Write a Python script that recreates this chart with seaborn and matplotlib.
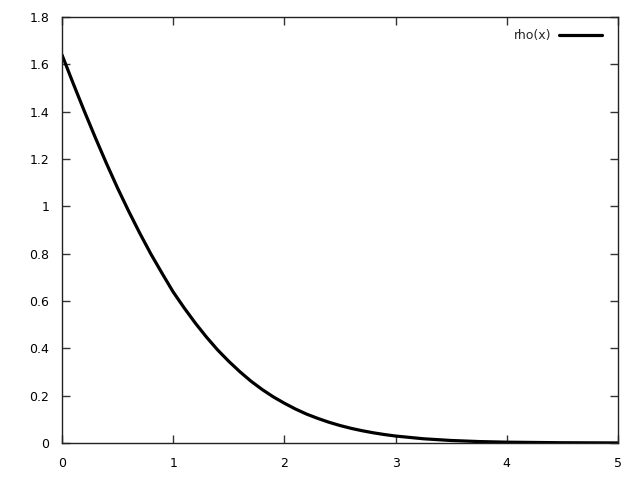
import numpy as np
import pandas as pd
import matplotlib
matplotlib.use("Agg")
import matplotlib.pyplot as plt
import seaborn as sns

# values
x_vals = [0.0, 0.1, 0.2, 0.3, 0.4, 0.5, 0.6, 0.7, 0.8, 0.9,
          1.0, 1.1, 1.2, 1.3, 1.4, 1.5, 1.6, 1.7, 1.8, 1.9,
          2.0, 2.1, 2.2, 2.3, 2.4, 2.5, 2.6, 2.7, 2.8, 2.9,
          3.0, 3.25, 3.5, 3.75, 4.0, 4.5, 5.0]
rho_vals = [1.64, 1.52, 1.403, 1.29, 1.181, 1.077, 0.979, 0.886, 0.798, 0.717,
            0.638, 0.570, 0.506, 0.447, 0.393, 0.345, 0.301, 0.261, 0.226, 0.195,
            0.168, 0.1435, 0.122, 0.104, 0.0878, 0.0739, 0.0619, 0.0518, 0.0431, 0.0357,
            0.0294, 0.0179, 0.0106, 0.0061, 0.0035, 0.0011, 0.0003]
x_ticks = [0, 1, 2, 3, 4, 5]
y_ticks = [0, 0.2, 0.4, 0.6, 0.8, 1.0, 1.2, 1.4, 1.6, 1.8]
y_labels = ["0", "0.2", "0.4", "0.6", "0.8", "1", "1.2", "1.4", "1.6", "1.8"]

df = pd.DataFrame({"x": x_vals, "rho": rho_vals})

sns.set_style("ticks")
plt.rcParams["font.family"] = ["DejaVu Sans"]

fig = plt.figure(figsize=(6.4, 4.8), dpi=100)
ax = fig.add_axes([62 / 640, 1 - 443 / 480, 556 / 640, 426 / 480])

sns.lineplot(data=df, x="x", y="rho", ax=ax, color="black", linewidth=2.3,
             label="rho(x)")

ax.set_xlim(0, 5)
ax.set_ylim(0, 1.8)
ax.set_xticks(x_ticks)
ax.set_xticklabels([str(t) for t in x_ticks])
ax.set_yticks(y_ticks)
ax.set_yticklabels(y_labels)
ax.set_xlabel("")
ax.set_ylabel("")

ax.tick_params(direction="in", length=6, width=1, color="#333333",
               top=True, right=True, labelsize=9, labelcolor="black")
ax.tick_params(axis="y", pad=9)
ax.tick_params(axis="x", pad=10)
for s in ax.spines.values():
    s.set_visible(True)
    s.set_color("#222222")
    s.set_linewidth(1)

ax.legend(loc="upper right", bbox_to_anchor=(0.993, 1.0), frameon=False,
          markerfirst=False, fontsize=9, handlelength=3.4, handletextpad=0.6,
          borderaxespad=0.6)

fig.savefig("out.png", dpi=100)
